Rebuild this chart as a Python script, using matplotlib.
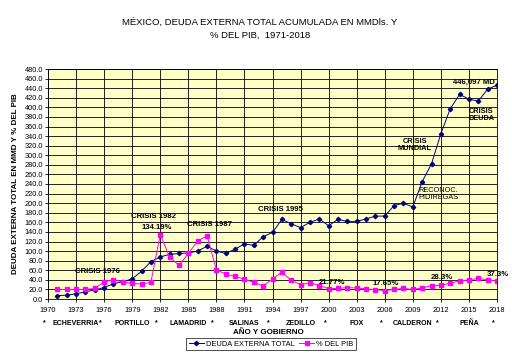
import numpy as np
import matplotlib
matplotlib.use("Agg")
import matplotlib.pyplot as plt
from matplotlib.transforms import blended_transform_factory

plt.rcParams['font.family'] = ['Liberation Sans', 'DejaVu Sans']

years = list(range(1971, 2019))

deuda = [7, 8, 11, 15, 19, 24, 32, 36, 42, 58, 78, 88,
         93, 95, 96, 100, 110, 100, 95, 104, 115, 112, 130, 139,
         166, 157, 149, 160, 167, 153, 166, 162, 162, 167, 173, 173,
         195, 200, 192, 245, 282, 345, 397, 427, 417, 413, 438, 446]

pib = [20, 20, 20, 20, 22, 36, 40, 36, 33, 31, 35, 134.19,
       88, 70, 95, 121, 132, 61, 52, 47, 41, 35, 27, 42,
       56, 39, 30, 34, 28, 21.77, 22, 24, 23, 21, 19.5, 17.65,
       20, 22, 20, 23, 28, 28.3, 33, 37.5, 40, 43, 40, 37.3]

tick_years = list(range(1970, 2019, 3))
sexenios = [1970, 1976, 1982, 1988, 1994, 2000, 2006, 2012, 2018]
presidentes = ['ECHEVERRIA', 'PORTILLO', 'LAMADRID', 'SALINAS',
               'ZEDILLO', 'FOX', 'CALDERON', 'PEÑA']

fig = plt.figure(figsize=(5.12, 3.55), dpi=100)
ax = fig.add_axes([48 / 512, 1 - 299 / 355, 449 / 512, 230 / 355])
ax.set_facecolor('#FFFFC8')

ax.plot(years, deuda, color='#000080', lw=0.7, marker='D', ms=2.2,
        label='DEUDA EXTERNA TOTAL')
ax.plot(years, pib, color='#FF00FF', lw=0.7, marker='s', ms=2.8,
        label='% DEL PIB')

ax.set_xlim(1970, 2018)
ax.set_ylim(0, 480)
ax.set_xticks(tick_years)
ax.set_xticklabels([str(y) for y in tick_years], fontsize=5.3)
ax.set_yticks(range(0, 481, 20))
ax.set_yticklabels([f'{v:.1f}' for v in range(0, 481, 20)], fontsize=5.3)
ax.tick_params(axis='x', length=2, width=0.6, pad=4)
ax.tick_params(axis='y', length=2, width=0.6, pad=1.5)
ax.grid(True, color='black', lw=0.6)
for s in ax.spines.values():
    s.set_linewidth(0.6)

ax.set_ylabel('DEUDA EXTERNA TOTAL EN MMD Y % DEL PIB', fontsize=5.8,
              fontweight='bold', labelpad=4)

# presidentes y sexenios bajo el eje
trans = blended_transform_factory(ax.transData, ax.transAxes)
for y in sexenios:
    ax.text(y - 0.4, -0.104, '*', transform=trans, fontsize=5,
            ha='center', va='center', fontweight='bold')
for i, name in enumerate(presidentes):
    ax.text(sexenios[i] + 3, -0.108, name, transform=trans, fontsize=5,
            ha='center', va='center', fontweight='bold')

ax.text(0.49, -0.145, 'AÑO Y GOBIERNO', transform=ax.transAxes,
        fontsize=5.8, fontweight='bold', ha='center', va='center')

fig.text(0.508, 0.95, 'MÉXICO, DEUDA EXTERNA TOTAL ACUMULADA EN MMDls. Y\n'
         '% DEL PIB,  1971-2018', ha='center', va='top', fontsize=6.8,
         linespacing=1.6)

# anotaciones
bold = dict(fontsize=5.6, fontweight='bold', ha='center', va='center')
ax.text(1975.3, 57, 'CRISIS 1976', **bold)
ax.text(1981.3, 172, 'CRISIS 1982', **bold)
ax.text(1981.6, 149, '134.19%', **bold)
ax.text(1987.3, 156, 'CRISIS 1987', **bold)
ax.text(1994.9, 186, 'CRISIS 1995', **bold)
ax.text(2015.5, 453, '446,097 MD', **bold)
ax.text(2015.0, 384, 'CRISIS\nDEUDA', fontsize=5.3, fontweight='bold',
        ha='left', va='center', linespacing=1.1)
ax.text(2009.2, 321, 'CRISIS\nMUNDIAL', fontsize=5.3, fontweight='bold',
        ha='center', va='center', linespacing=1.1)
ax.text(2009.6, 219, 'RECONOC.\nPIDIREGAS', fontsize=5.3,
        ha='left', va='center', linespacing=1.1)
ax.text(2000.4, 35, '21.77%', **bold)
ax.text(2006.1, 33, '17.65%', **bold)
ax.text(2012.1, 45, '28.3%', **bold)
ax.text(2018.1, 51.5, '37.3%', **bold)

leg = ax.legend(loc='center', bbox_to_anchor=(271 / 512, 1 - 344 / 355),
                bbox_transform=fig.transFigure, ncol=2, fontsize=5.4,
                frameon=True, fancybox=False, handlelength=2.0,
                columnspacing=0.6, handletextpad=0.3, borderpad=0.3)
leg.get_frame().set_edgecolor('black')
leg.get_frame().set_linewidth(0.6)

fig.savefig('out.png', dpi=100)
